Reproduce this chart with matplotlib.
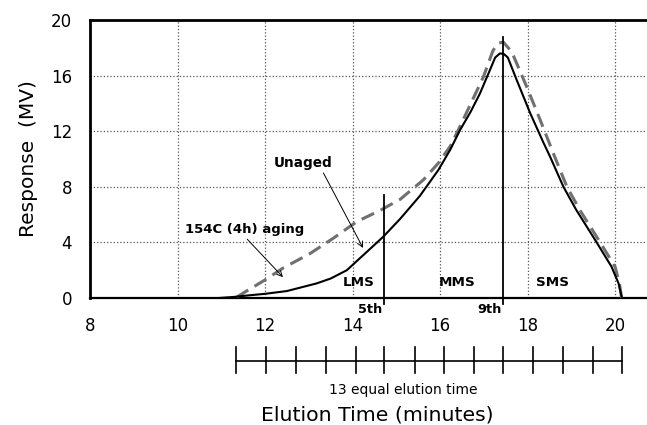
import numpy as np
import matplotlib
matplotlib.use('Agg')
import matplotlib.pyplot as plt

plt.rcParams['font.family'] = ['DejaVu Sans']

# Unaged curve (solid)
unaged_x = [10.95, 11.3, 11.66, 12.0, 12.5, 13.18, 13.5, 13.87, 14.32, 14.7, 15.09,
            15.54, 15.96, 16.23, 16.46, 16.7, 16.91, 17.14, 17.26, 17.37, 17.46,
            17.55, 17.75, 18.06, 18.36, 18.51, 18.82, 19.12, 19.54, 19.92, 20.08, 20.15]
unaged_y = [0.0, 0.08, 0.2, 0.3, 0.5, 1.05, 1.4, 2.0, 3.3, 4.4, 5.7,
            7.35, 9.2, 10.65, 12.1, 13.4, 14.7, 16.4, 17.3, 17.6, 17.55,
            17.3, 15.7, 13.3, 11.2, 10.2, 8.0, 6.3, 4.2, 2.25, 1.05, 0.1]

# 154C (4h) aging curve (dashed)
aged_x = [11.35, 11.5, 12.0, 12.41, 13.03, 13.56, 14.1, 14.63, 15.09, 15.24, 15.62,
          15.96, 16.23, 16.42, 16.6, 16.99, 17.21, 17.33, 17.45, 17.64, 17.98,
          18.29, 18.59, 18.9, 19.2, 19.62, 20.0, 20.1, 20.15]
aged_y = [0.05, 0.35, 1.3, 2.15, 3.2, 4.3, 5.5, 6.3, 7.1, 7.5, 8.5,
          9.7, 10.9, 12.1, 13.3, 15.9, 17.8, 18.35, 18.4, 17.7, 15.2,
          12.8, 10.4, 8.0, 6.3, 4.2, 2.25, 1.05, 0.0]

# fraction boundaries (5th and 9th) and the 13 equal elution time divisions
cut_5th = 14.72
cut_9th = 17.45
divisions = [11.34, 12.02, 12.70, 13.39, 14.07, 14.73, 15.43, 16.08, 16.77, 17.45,
             18.12, 18.80, 19.49, 20.17]

region_labels = ['LMS', 'MMS', 'SMS']
region_x = [14.15, 16.4, 18.58]

fig = plt.figure(figsize=(6.47, 4.25), dpi=100)
ax = fig.add_axes([90 / 647, 1 - 298 / 425, 1 - 90 / 647, 278 / 425])

ax.plot(aged_x, aged_y, color='#707070', lw=2.2, ls=(0, (4.5, 2.4)), zorder=3)
ax.plot(unaged_x, unaged_y, color='black', lw=1.5, zorder=4)

ax.plot([cut_5th, cut_5th], [-0.4, 7.4], color='black', lw=1.3, clip_on=False, zorder=5)
ax.plot([cut_9th, cut_9th], [-0.4, 18.8], color='black', lw=1.3, clip_on=False, zorder=5)
ax.text(cut_5th - 0.03, -0.85, '5th', ha='right', va='center', fontsize=9.3,
        fontweight='bold', clip_on=False)
ax.text(cut_9th - 0.03, -0.85, '9th', ha='right', va='center', fontsize=9.3,
        fontweight='bold', clip_on=False)

for lab, xx in zip(region_labels, region_x):
    ax.text(xx, 1.1, lab, ha='center', va='center', fontsize=9.7, fontweight='bold')

ax.annotate('Unaged', xy=(14.24, 3.6), xytext=(12.2, 9.7), fontsize=9.8,
            fontweight='bold', ha='left', va='center',
            arrowprops=dict(arrowstyle='->', color='black', lw=0.7,
                            shrinkA=0, shrinkB=0, relpos=(0.82, 0)))
ax.annotate('154C (4h) aging', xy=(12.41, 1.5), xytext=(10.17, 4.9), fontsize=9.5,
            fontweight='bold', ha='left', va='center',
            arrowprops=dict(arrowstyle='->', color='black', lw=0.7,
                            shrinkA=0, shrinkB=0, relpos=(0.5, 0)))

ax.set_xlim(8, 20.73)
ax.set_ylim(0, 20)
ax.set_xticks([8, 10, 12, 14, 16, 18, 20])
ax.set_yticks([0, 4, 8, 12, 16, 20])
ax.tick_params(length=0, labelsize=12)
ax.tick_params(axis='x', pad=14)
ax.tick_params(axis='y', pad=13)
ax.grid(True, ls=':', color='#555555', lw=0.9)
ax.set_axisbelow(True)
for s in ['top', 'left']:
    ax.spines[s].set_linewidth(2)
ax.spines['bottom'].set_linewidth(1.6)
ax.spines['right'].set_visible(False)
ax.set_ylabel('Response  (MV)', fontsize=14.5, labelpad=9)

# bottom scale bar with 13 equal intervals
trans = ax.get_xaxis_transform()
ax.plot([divisions[0], divisions[-1]], [-0.2266, -0.2266], color='black', lw=1.2,
        transform=trans, clip_on=False)
for d in divisions:
    ax.plot([d, d], [-0.175, -0.27], color='black', lw=1.2, transform=trans, clip_on=False)
ax.text(15.15, -0.331, '13 equal elution time', transform=trans, ha='center',
        va='center', fontsize=10)
ax.text(14.56, -0.42, 'Elution Time (minutes)', transform=trans, ha='center',
        va='center', fontsize=14.7)

fig.savefig('out.png', dpi=100)
